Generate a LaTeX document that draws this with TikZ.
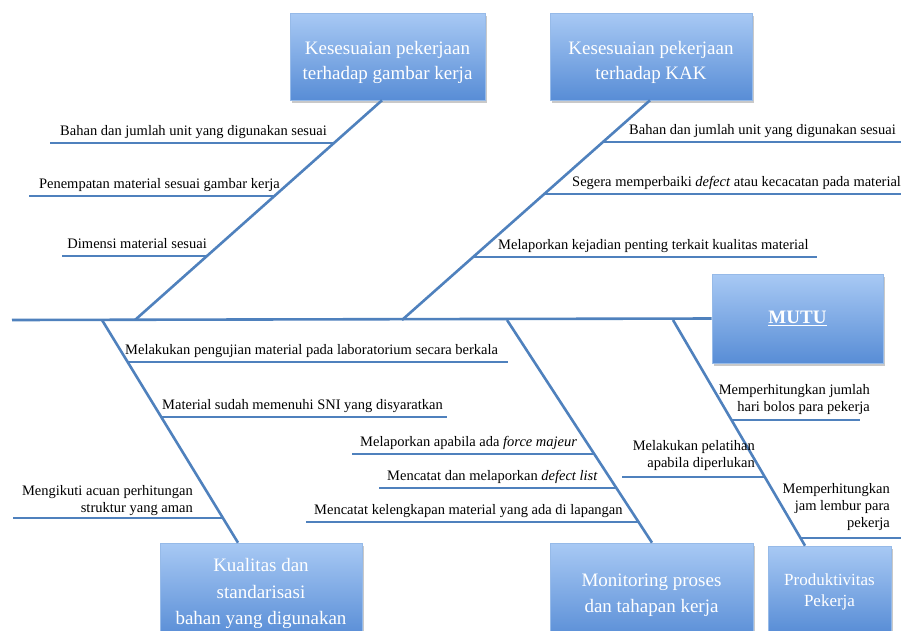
\documentclass[tikz,border=0pt]{standalone}
\usepackage{fontspec}
\setmainfont{Liberation Serif}
\usetikzlibrary{shadows}
\definecolor{bonecol}{RGB}{79,129,189}
\definecolor{boxtop}{RGB}{168,201,244}
\definecolor{boxbot}{RGB}{88,141,214}
\definecolor{boxedge}{RGB}{150,186,232}
% centred multi-line text, moved down by #1 without changing its extent
\newcommand\boxlines[2]{\raisebox{-#1}[\height][\depth]{\begin{tabular}{@{}c@{}}#2\end{tabular}}}

\begin{document}
\begin{tikzpicture}[x=1pt,y=-1pt,
  bone/.style={draw=bonecol,line width=2.6pt},
  twig/.style={draw=bonecol,line width=2.6pt},
  cat/.style={draw=boxedge,line width=0.6pt,top color=boxtop,bottom color=boxbot,
    text=white,font=\fontsize{19}{25}\selectfont,align=center,inner sep=0pt,
    drop shadow={opacity=0.35,shadow xshift=1.5pt,shadow yshift=-2.5pt,fill=black!60}},
  lbl/.style={font=\fontsize{14.5}{17}\selectfont,inner sep=0pt}]

\useasboundingbox (0,0) rectangle (901,630);
\fill[white] (0,0) rectangle (901,630);

% category boxes
\node[cat,minimum width=195pt,minimum height=87pt] (kgk) at (387.5,56.5)
  {\boxlines{5pt}{Kesesuaian pekerjaan\\terhadap gambar kerja}};
\node[cat,minimum width=202pt,minimum height=87pt] (kak) at (651,56.5)
  {\boxlines{5pt}{Kesesuaian pekerjaan\\terhadap KAK}};
\node[cat,minimum width=171pt,minimum height=89pt] (mutu) at (797.5,318.5)
  {\raisebox{-1.5pt}{\textbf{\underline{MUTU}}}};
\node[cat,minimum width=202pt,minimum height=94pt,font=\fontsize{19}{26.5}\selectfont] (kual) at (261,590)
  {\boxlines{3pt}{Kualitas dan\\standarisasi\\bahan yang digunakan}};
\node[cat,minimum width=203pt,minimum height=97pt,font=\fontsize{19}{26.5}\selectfont] (mon) at (651.5,591.5)
  {\boxlines{2.5pt}{Monitoring proses\\dan tahapan kerja}};
\node[cat,minimum width=123pt,minimum height=87pt,font=\fontsize{17}{21}\selectfont] (prod) at (829.5,589.5)
  {\boxlines{2pt}{Produktivitas\\Pekerja}};

% spine
\coordinate (tail) at (12,320);
\draw[bone] (tail) -- (mutu.west);

% main bones
\coordinate (s1) at (135,320);
\coordinate (s2) at (402,320);
\coordinate (s3) at (102,320);
\coordinate (s4) at (507,320);
\coordinate (s5) at (673,320);
\draw[bone] (s1) -- ([xshift=-5.5pt]kgk.south);
\draw[bone] (s2) -- ([xshift=-1pt]kak.south);
\draw[bone] (s3) -- ([xshift=-23pt]kual.north);
\draw[bone] (s4) -- ([xshift=0.5pt]mon.north);
\draw[bone] (s5) -- ([xshift=-24.5pt]prod.north);

% causes: Kesesuaian pekerjaan terhadap gambar kerja
\coordinate (a1s) at (50,143);  \coordinate (a1b) at (333.7,143);
\coordinate (a2s) at (29,196);  \coordinate (a2b) at (274.2,196);
\coordinate (a3s) at (62,256);  \coordinate (a3b) at (206.9,256);
\draw[twig] (a1s) -- (a1b);
\draw[twig] (a2s) -- (a2b);
\draw[twig] (a3s) -- (a3b);
\node[lbl,anchor=base east] (la1) at (327,135) {Bahan dan jumlah unit yang digunakan sesuai};
\node[lbl,anchor=base east] (la2) at (280,188) {Penempatan material sesuai gambar kerja};
\node[lbl,anchor=base east] (la3) at (207,248) {Dimensi material sesuai};

% causes: Kesesuaian pekerjaan terhadap KAK
\coordinate (b1b) at (602.7,142); \coordinate (b1e) at (905,142);
\coordinate (b2b) at (544,194);   \coordinate (b2e) at (905,194);
\coordinate (b3b) at (473,257);   \coordinate (b3e) at (817,257);
\draw[twig] (b1b) -- (b1e);
\draw[twig] (b2b) -- (b2e);
\draw[twig] (b3b) -- (b3e);
\node[lbl,anchor=base east] (lb1) at (896,134) {Bahan dan jumlah unit yang digunakan sesuai};
\node[lbl,anchor=base west] (lb2) at (572,186) {Segera memperbaiki \textit{defect} atau kecacatan pada material};
\node[lbl,anchor=base west] (lb3) at (498,249) {Melaporkan kejadian penting terkait kualitas material};

% causes: Kualitas dan standarisasi bahan
\coordinate (c1b) at (127.6,362); \coordinate (c1e) at (508,362);
\coordinate (c2b) at (161.2,417); \coordinate (c2e) at (447,417);
\coordinate (c3s) at (13,518);    \coordinate (c3b) at (222.8,518);
\draw[twig] (c1b) -- (c1e);
\draw[twig] (c2b) -- (c2e);
\draw[twig] (c3s) -- (c3b);
\node[lbl,anchor=base west] (lc1) at (125,354) {Melakukan pengujian material pada laboratorium secara berkala};
\node[lbl,anchor=base west] (lc2) at (162,409) {Material sudah memenuhi SNI yang disyaratkan};
\node[lbl,anchor=south east,align=right] (lc3) at (193,516) {Mengikuti acuan perhitungan\\struktur yang aman};

% causes: Monitoring proses dan tahapan kerja
\coordinate (d1s) at (352,454); \coordinate (d1b) at (594.1,454);
\coordinate (d2s) at (379,488); \coordinate (d2b) at (616.2,488);
\coordinate (d3s) at (306,522); \coordinate (d3b) at (638.3,522);
\draw[twig] (d1s) -- (d1b);
\draw[twig] (d2s) -- (d2b);
\draw[twig] (d3s) -- (d3b);
\node[lbl,anchor=base west] (ld1) at (360,446) {Melaporkan apabila ada \textit{force majeur}};
\node[lbl,anchor=base west] (ld2) at (387,480) {Mencatat dan melaporkan \textit{defect list}};
\node[lbl,anchor=base west] (ld3) at (314,514) {Mencatat kelengkapan material yang ada di lapangan};

% causes: Produktivitas Pekerja
\coordinate (e1b) at (731.4,420); \coordinate (e1e) at (860,420);
\coordinate (e2s) at (622,477);   \coordinate (e2b) at (764.7,477);
\coordinate (e3b) at (800.3,538); \coordinate (e3e) at (905,538);
\draw[twig] (e1b) -- (e1e);
\draw[twig] (e2s) -- (e2b);
\draw[twig] (e3b) -- (e3e);
\node[lbl,anchor=south east,align=right] (le1) at (870,415) {Memperhitungkan jumlah\\hari bolos para pekerja};
\node[lbl,anchor=south east,align=right] (le2) at (755,471) {Melakukan pelatihan\\apabila diperlukan};
\node[lbl,anchor=south east,align=right] (le3) at (890,531) {Memperhitungkan\\jam lembur para\\pekerja};
\end{tikzpicture}
\end{document}
